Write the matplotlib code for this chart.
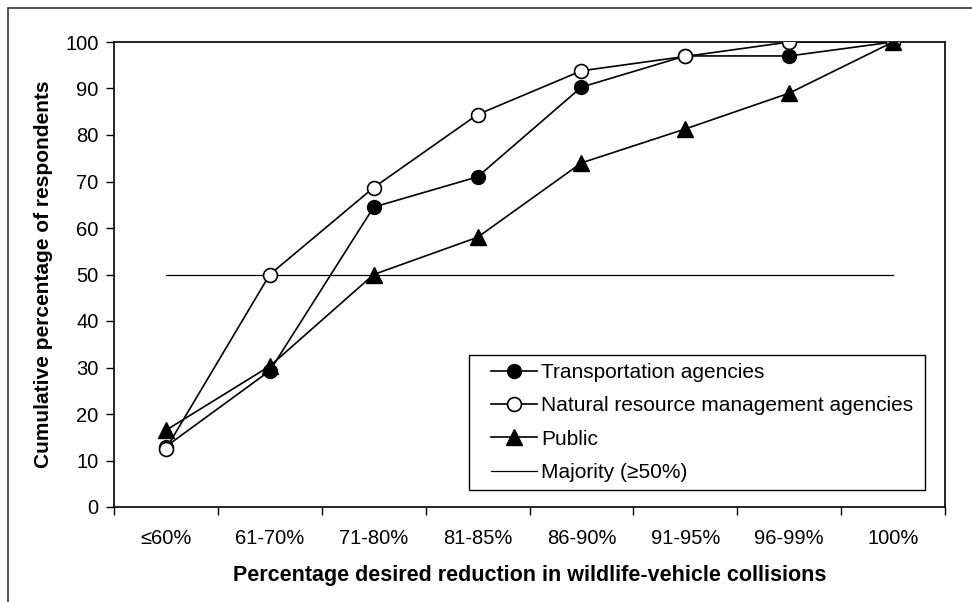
import numpy as np
import matplotlib.pyplot as plt
from matplotlib.patches import Rectangle

# categories on the x axis
categories = ['≤60%', '61-70%', '71-80%', '81-85%', '86-90%', '91-95%', '96-99%', '100%']
# cumulative percentage of respondents per group
transport = [13, 29.3, 64.5, 71, 90.3, 97, 97, 100]
natural = [12.5, 50, 68.7, 84.4, 93.8, 96.9, 100, 100]
public = [16.5, 30.3, 50, 58, 74, 81.3, 89, 100]
majority = [50] * len(categories)

plt.rcParams['font.family'] = ['Liberation Sans', 'DejaVu Sans']

fig = plt.figure(figsize=(9.72, 6.02), dpi=100)
# outer frame of the figure (left and top edges visible)
fig.patches.append(Rectangle((8 / 972, -0.1), 1.2, 1 - 8 / 602 + 0.1,
                             transform=fig.transFigure, fill=False,
                             edgecolor='#333333', linewidth=1.2))
ax = fig.add_axes([114 / 972, 1 - 507 / 602, (945 - 114) / 972, (507 - 42) / 602])

x = np.arange(len(categories)) + 0.5
ax.plot(x, transport, color='black', lw=1.2, marker='o', ms=10,
        mfc='black', mec='black', label='Transportation agencies', zorder=3)
ax.plot(x, natural, color='black', lw=1.2, marker='o', ms=10,
        mfc='white', mec='black', mew=1.2, label='Natural resource management agencies', zorder=3)
ax.plot(x, public, color='black', lw=1.2, marker='^', ms=12,
        mfc='black', mec='black', label='Public', zorder=3)
ax.plot(x, majority, color='black', lw=0.9, label='Majority (≥50%)', zorder=2)

ax.set_xlim(0, len(categories))
ax.set_ylim(0, 100)
ax.set_yticks(np.arange(0, 101, 10))
ax.set_xticks(np.arange(0, len(categories) + 1))
ax.set_xticklabels([])
ax.set_xticks(x, minor=True)
ax.set_xticklabels(categories, minor=True)
ax.tick_params(axis='x', which='minor', length=0, pad=16, labelsize=14.5)
ax.tick_params(axis='x', which='major', direction='out', length=6, width=1)
ax.tick_params(axis='y', direction='out', length=6, width=1, labelsize=14.5, pad=5)
for s in ax.spines.values():
    s.set_linewidth(1.2)

ax.set_xlabel('Percentage desired reduction in wildlife-vehicle collisions',
              fontsize=15.5, fontweight='bold', labelpad=12)
ax.set_ylabel('Cumulative percentage of respondents', fontsize=15,
              fontweight='bold', labelpad=9)

# legend box drawn by hand: wide side padding, tight top/bottom
ax.add_patch(Rectangle((0.427, 0.036), 0.549, 0.291, transform=ax.transAxes,
                       fill=True, facecolor='white', edgecolor='black',
                       linewidth=1.0, zorder=4))
leg = ax.legend(loc='upper left', bbox_to_anchor=(0.4537, 0.309), fontsize=15,
                frameon=False, handlelength=2.2, borderpad=0, labelspacing=0.68,
                handletextpad=0.2, borderaxespad=0)
leg.set_zorder(5)

plt.savefig('out.png', dpi=100)
